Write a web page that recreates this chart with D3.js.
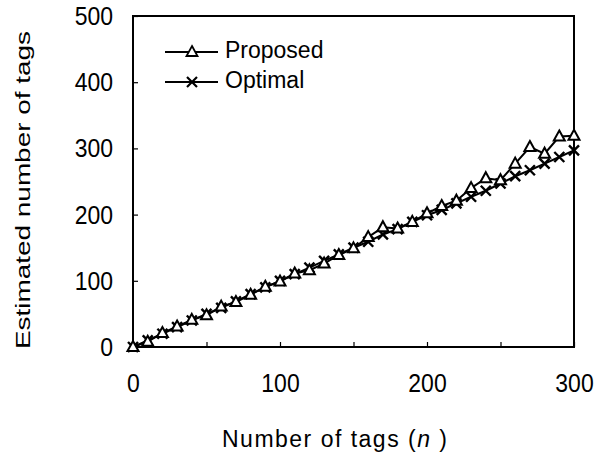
<!DOCTYPE html>
<html><head><meta charset="utf-8">
<script src="https://cdn.jsdelivr.net/npm/d3@7"></script>
<style>
body{margin:0;background:#fff}
svg{display:block}
text{font-family:"Liberation Sans",Arial,Helvetica,sans-serif;fill:#000}
</style>
</head><body>
<svg id="chart" width="602" height="461"></svg>
<script>
// ---- data ----
const nValues = [0,10,20,30,40,50,60,70,80,90,100,110,120,130,140,150,160,170,180,190,200,210,220,230,240,250,260,270,280,290,300];
const proposed = [0,8,21,31,41,48,61,68,79,91,99,111,116,126,139,149,166,181,179,189,202,213,221,240,255,252,277,302,292,318,319];
const optimal  = [0,10,20,30,40,50,59,69,80,90,100,110,120,130,140,150,159,170,178,189,199,207,217,227,236,247,258,267,277,287,297];
const xTicks = [0,50,100,150,200,250,300];
const xTickLabels = [0,100,200,300];
const yTicks = [0,100,200,300,400,500];
const seriesNames = ["Proposed","Optimal"];
const xTitle = "Number of tags (";
const xTitleVar = "n";
const xTitleEnd = " )";
const yTitle = "Estimated number of tags";

// ---- layout ----
const svg = d3.select("#chart");
const L = 133, R = 574, T = 16, B = 347;
const x = d3.scaleLinear().domain([0,300]).range([L,R]);
const y = d3.scaleLinear().domain([0,500]).range([B,T]);

// axes
const xAxis = d3.axisBottom(x).tickValues(xTicks)
  .tickFormat(d => xTickLabels.includes(d) ? d : "")
  .tickSizeInner(-5).tickSizeOuter(0).tickPadding(28);
const gx = svg.append("g").attr("transform",`translate(0,${B})`).call(xAxis);
gx.select(".domain").remove();
gx.selectAll(".tick line").attr("stroke","#000").attr("stroke-width",1.2);
gx.selectAll(".tick text").attr("font-size",23).attr("font-family",null).attr("fill","#000")
  .attr("transform","scale(1,1.1)").attr("y",null).attr("dy",null)
  .attr("y",(45/1.1));

const yAxis = d3.axisLeft(y).tickValues(yTicks)
  .tickSizeInner(-5).tickSizeOuter(0).tickPadding(20);
const gy = svg.append("g").attr("transform",`translate(${L},0)`).call(yAxis);
gy.select(".domain").remove();
gy.selectAll(".tick line").attr("stroke","#000").attr("stroke-width",1.2);
gy.selectAll(".tick text").attr("font-size",23).attr("font-family",null).attr("fill","#000")
  .attr("dy",null).attr("y",8.5/1.1).attr("transform","scale(1,1.1)");

// frame
svg.append("rect").attr("x",L).attr("y",T).attr("width",R-L).attr("height",B-T)
  .attr("fill","none").attr("stroke","#000").attr("stroke-width",2);

// markers
const triPath = "M0,-6L5.5,4L-5.5,4Z";
const xPath = "M-5,-5L5,5M-5,5L5,-5";

const line = d3.line().x((d,i)=>x(nValues[i])).y(d=>y(d));

// optimal series
svg.append("path").datum(optimal).attr("d",line)
  .attr("fill","none").attr("stroke","#000").attr("stroke-width",2);
svg.append("g").selectAll("path").data(optimal).join("path")
  .attr("transform",(d,i)=>`translate(${x(nValues[i])},${y(d)})`)
  .attr("d",xPath).attr("stroke","#000").attr("stroke-width",2.4).attr("fill","none");

// proposed series
svg.append("path").datum(proposed).attr("d",line)
  .attr("fill","none").attr("stroke","#000").attr("stroke-width",2);
svg.append("g").selectAll("path").data(proposed).join("path")
  .attr("transform",(d,i)=>`translate(${x(nValues[i])},${y(d)})`)
  .attr("d",triPath).attr("stroke","#000").attr("stroke-width",2).attr("fill","#fff");

// legend
const legY = [52,82];
const legend = svg.append("g");
seriesNames.forEach((name,i)=>{
  const g = legend.append("g");
  g.append("line").attr("x1",165).attr("x2",218).attr("y1",legY[i]).attr("y2",legY[i])
    .attr("stroke","#000").attr("stroke-width",1.8);
  g.append("path").attr("transform",`translate(192,${legY[i]})`)
    .attr("d", i===0 ? triPath : xPath)
    .attr("stroke","#000").attr("stroke-width", i===0?1.8:2.2).attr("fill", i===0?"#fff":"none");
  g.append("text").attr("x",225).attr("y",legY[i]+6).attr("font-size",23).text(name);
});

// axis titles
const xt = svg.append("text").attr("x",222).attr("y",447).attr("font-size",23)
  .attr("textLength",225).attr("lengthAdjust","spacing");
xt.append("tspan").text(xTitle);
xt.append("tspan").attr("font-style","italic").text(xTitleVar);
xt.append("tspan").text(xTitleEnd);

svg.append("text").attr("transform","translate(30,190) rotate(-90)")
  .attr("text-anchor","middle").attr("font-size",21)
  .attr("textLength",318).attr("lengthAdjust","spacingAndGlyphs").text(yTitle);
</script>
</body></html>
